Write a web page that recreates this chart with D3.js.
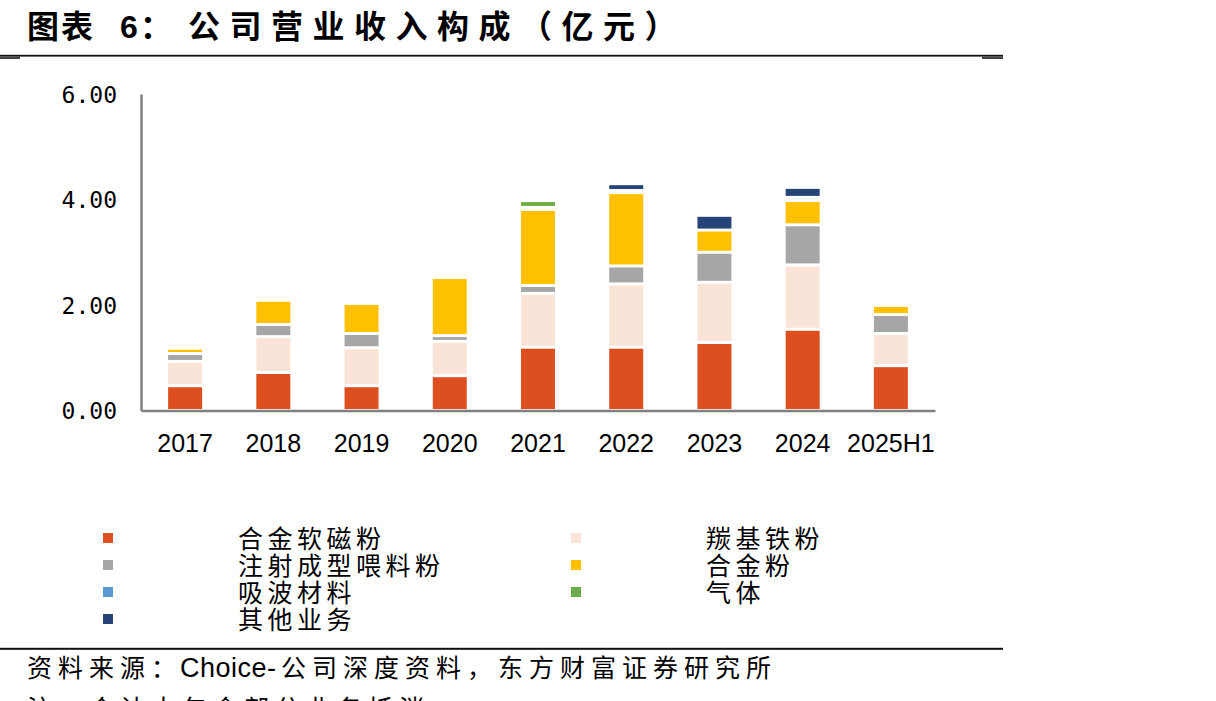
<!DOCTYPE html>
<html>
<head>
<meta charset="utf-8">
<script src="https://cdn.jsdelivr.net/npm/d3@7"></script>
<style>
  html, body { margin: 0; padding: 0; background: #fff; }
  svg { display: block; }
</style>
</head>
<body>
<svg id="chart" width="1216" height="701"></svg>
<script>
// ---- data ----
const categories = ["2017", "2018", "2019", "2020", "2021", "2022", "2023", "2024", "2025H1"];
const seriesNames = ["合金软磁粉", "羰基铁粉", "注射成型喂料粉", "合金粉", "吸波材料", "气体", "其他业务"];
const alloySoftMagnetic = [0.47, 0.72, 0.47, 0.66, 1.20, 1.20, 1.29, 1.54, 0.85];
const carbonylIron      = [0.46, 0.68, 0.72, 0.65, 1.02, 1.20, 1.14, 1.22, 0.61];
const mimFeedstock      = [0.15, 0.23, 0.27, 0.11, 0.15, 0.34, 0.57, 0.76, 0.36];
const alloyPowder       = [0.10, 0.46, 0.57, 1.10, 1.44, 1.39, 0.42, 0.46, 0.17];
const absorbing         = [0.00, 0.00, 0.00, 0.00, 0.04, 0.00, 0.00, 0.00, 0.00];
const gas               = [0.00, 0.00, 0.00, 0.00, 0.13, 0.04, 0.00, 0.06, 0.00];
const otherBusiness     = [0.00, 0.00, 0.00, 0.00, 0.00, 0.13, 0.28, 0.19, 0.00];
const yTicks = [0, 2, 4, 6];
const yTickLabels = ["0.00", "2.00", "4.00", "6.00"];
const colors = ["#DD4F1F", "#FAE4D8", "#A6A6A6", "#FFC000", "#5B9BD5", "#70AD47", "#264478"];

const seriesValues = [alloySoftMagnetic, carbonylIron, mimFeedstock, alloyPowder, absorbing, gas, otherBusiness];
const rows = categories.map((c, i) => {
  const r = { cat: c };
  seriesNames.forEach((s, k) => r[s] = seriesValues[k][i]);
  return r;
});

const svg = d3.select("#chart");
svg.append("rect").attr("width", 1216).attr("height", 701).attr("fill", "#fff");

// ---- title ----
const cjk = "'Noto Sans CJK SC', 'Noto Sans', sans-serif";
const title = svg.append("text").attr("y", 38).attr("font-family", cjk)
  .attr("font-size", 32).attr("font-weight", "bold").attr("fill", "#000");
title.append("tspan").attr("x", 27).attr("letter-spacing", 2).text("图表");
title.append("tspan").attr("x", 120).attr("font-family", "'Liberation Sans', Arial, sans-serif").text("6");
title.append("tspan").attr("x", 140).text("：");
title.append("tspan").attr("x", 188).attr("letter-spacing", 9.5).text("公司营业收入构成（亿元）");

// top rule
svg.append("rect").attr("x", 0).attr("y", 54.8).attr("width", 1003).attr("height", 1.8).attr("fill", "#111");
svg.append("rect").attr("x", 0).attr("y", 56.5).attr("width", 20).attr("height", 2.5).attr("fill", "#444");
svg.append("rect").attr("x", 982).attr("y", 56.5).attr("width", 21).attr("height", 2.5).attr("fill", "#444");

// ---- scales ----
const x = d3.scaleBand().domain(categories).range([141, 935]).paddingInner(0.614).paddingOuter(0.307);
const y = d3.scaleLinear().domain([0, 6]).range([410.5, 94]);

const stack = d3.stack().keys(seriesNames);
const stacked = stack(rows);

const barW = 34;
const gap = 1.5;
const g = svg.append("g");
stacked.forEach((layer, k) => {
  g.selectAll(null).data(layer.filter(d => (y(d[0]) - y(d[1])) > 2 * gap)).enter().append("rect")
    .attr("x", d => x(d.data.cat) + x.bandwidth() / 2 - barW / 2)
    .attr("width", barW)
    .attr("y", d => y(d[1]) + gap)
    .attr("height", d => (y(d[0]) - y(d[1])) - 2 * gap)
    .attr("fill", colors[k]);
});

// ---- axes ----
const axisColor = "#808080";
const yAxis = svg.append("g").attr("transform", "translate(141,0)")
  .call(d3.axisLeft(y).tickValues(yTicks).tickSize(0).tickFormat((d, i) => yTickLabels[i]));
yAxis.select(".domain").attr("stroke", axisColor).attr("stroke-width", 2.5);
yAxis.selectAll("text").attr("font-family", "'DejaVu Sans Mono', monospace").attr("font-size", 23)
  .attr("fill", "#000").attr("x", -24).attr("dy", "0.36em");

const xAxis = svg.append("g").attr("transform", "translate(0,410.5)")
  .call(d3.axisBottom(x).tickSize(0).tickSizeOuter(0));
xAxis.select(".domain").attr("stroke", axisColor).attr("stroke-width", 2.5);
xAxis.selectAll("text").attr("font-family", "'Liberation Sans', Arial, sans-serif").attr("font-size", 25)
  .attr("fill", "#000").attr("y", 41).attr("dy", 0);

// ---- legend ----
const legendPos = [
  [103, 238, 538], [571, 706, 538],
  [103, 238, 565], [571, 706, 565],
  [103, 238, 592], [571, 706, 592],
  [103, 238, 619]
];
seriesNames.forEach((s, k) => {
  const [mx, tx, cy] = legendPos[k];
  svg.append("rect").attr("x", mx).attr("y", cy - 5).attr("width", 10).attr("height", 10).attr("fill", colors[k]);
  svg.append("text").attr("x", tx).attr("y", cy + 9.5).attr("font-family", cjk).attr("font-size", 25)
    .attr("letter-spacing", 4.5).attr("fill", "#000").text(s);
});

// ---- footer ----
svg.append("rect").attr("x", 0).attr("y", 647.8).attr("width", 1003).attr("height", 2).attr("fill", "#111");
const foot = svg.append("text").attr("y", 677).attr("font-family", cjk).attr("font-size", 25).attr("fill", "#000");
foot.append("tspan").attr("x", 27).attr("letter-spacing", 6).text("资料来源：");
foot.append("tspan").attr("x", 180).attr("letter-spacing", 0.5).attr("font-family", "'Liberation Sans', Arial, sans-serif").attr("font-size", 27).text("Choice-");
foot.append("tspan").attr("x", 281).attr("letter-spacing", 6).text("公司深度资料，东方财富证券研究所");
svg.append("text").attr("x", 27).attr("y", 718).attr("font-family", cjk).attr("font-size", 25)
  .attr("letter-spacing", 6).attr("fill", "#000").text("注：合计中包含部分业务抵消");
</script>
</body>
</html>
